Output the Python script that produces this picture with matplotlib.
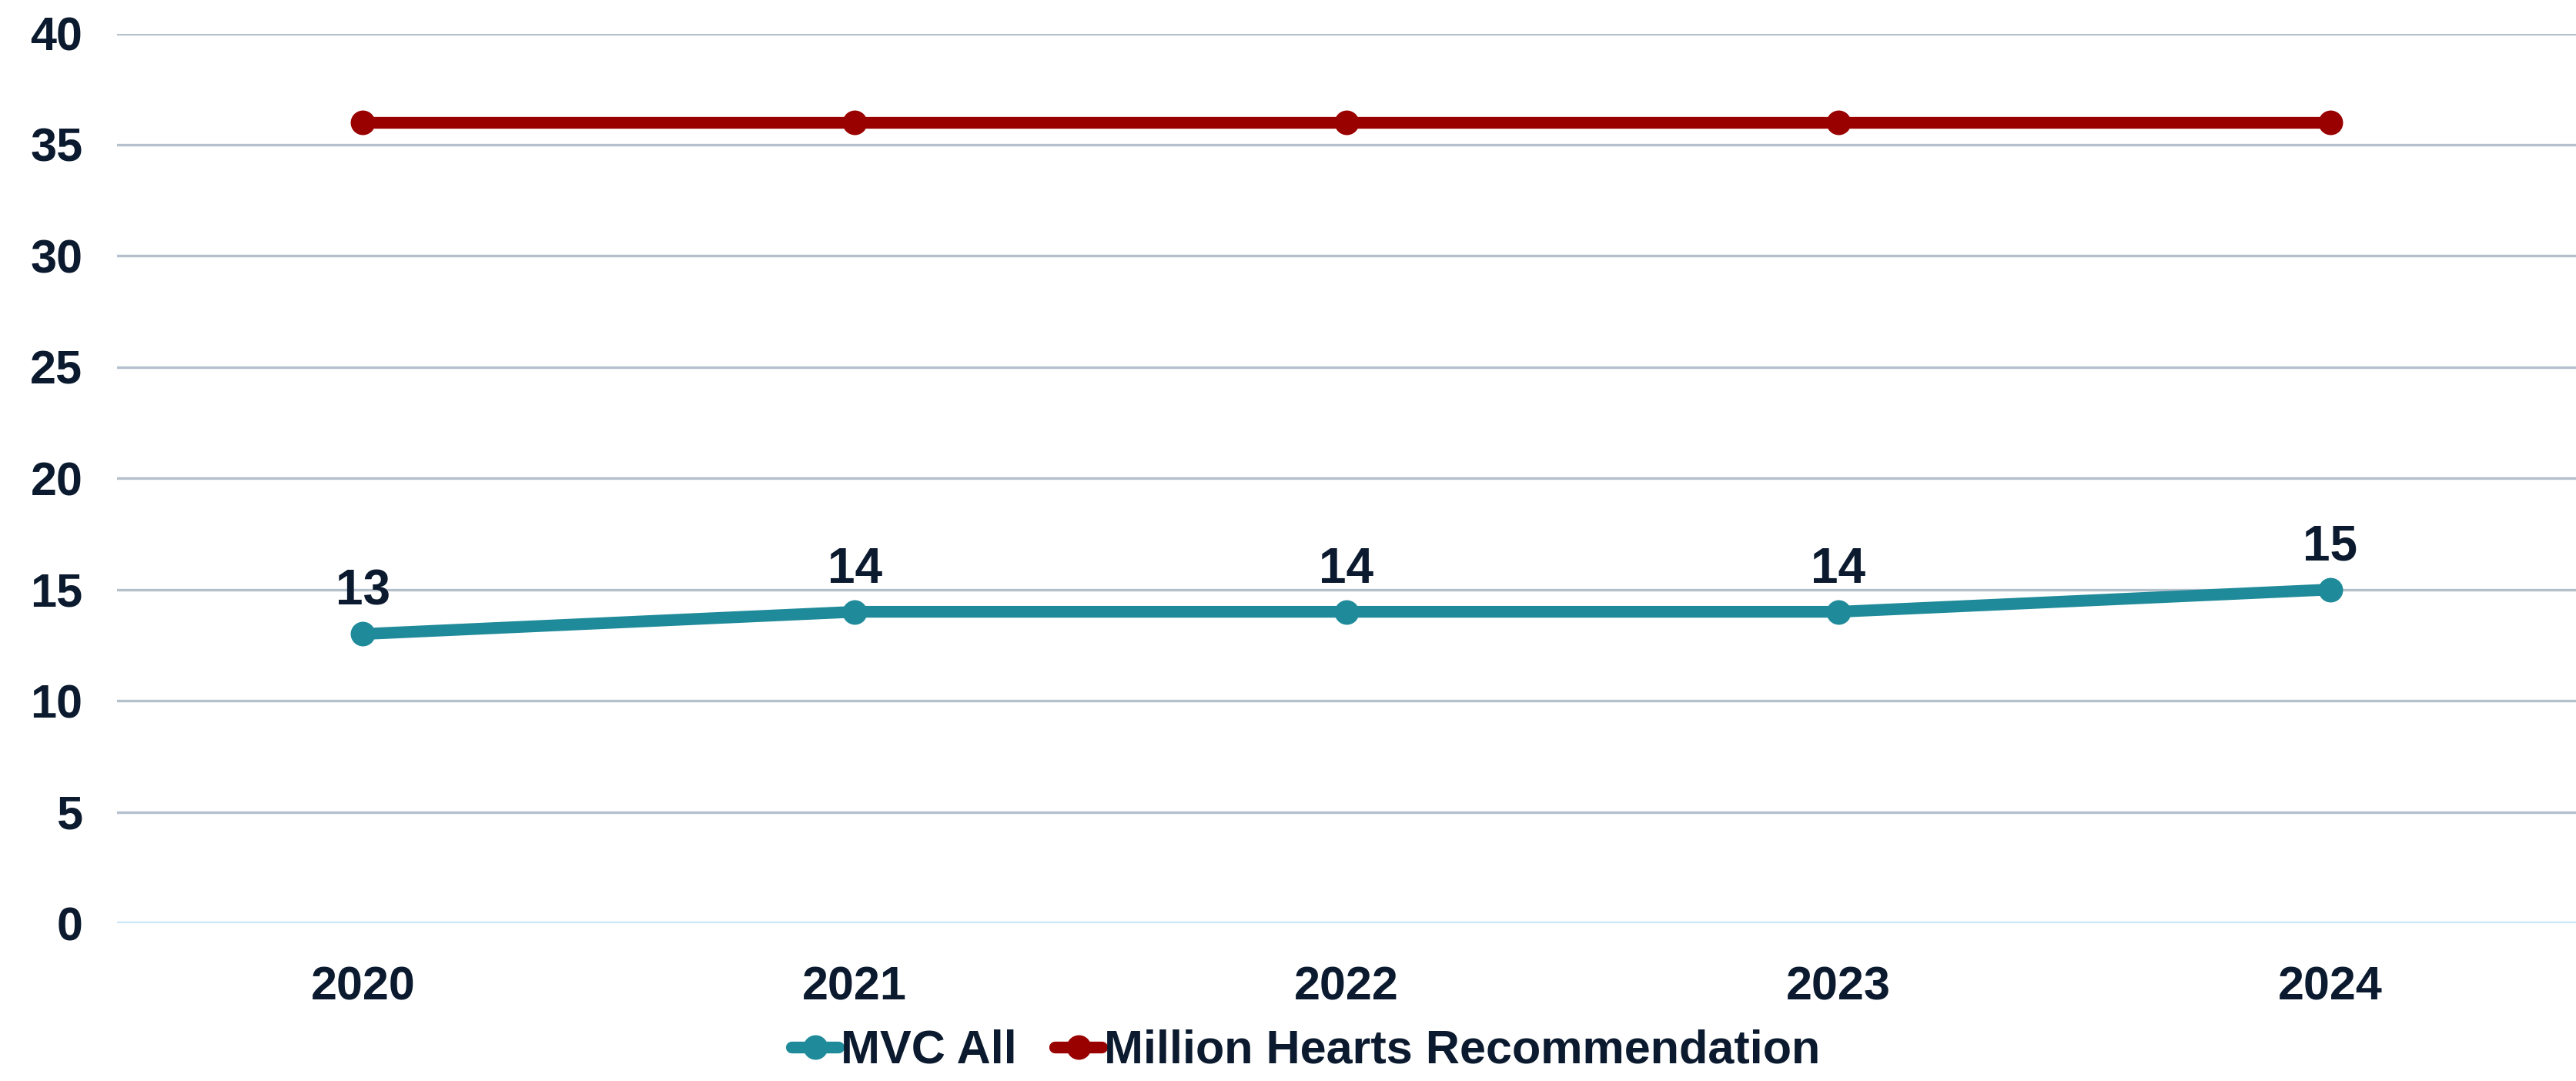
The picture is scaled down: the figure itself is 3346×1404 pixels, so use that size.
import matplotlib.pyplot as plt

# Data
years = ['2020', '2021', '2022', '2023', '2024']
mvc_all = [13, 14, 14, 14, 15]
million_hearts = [36, 36, 36, 36, 36]

text_col = '#0B1A2E'
plt.rcParams['font.family'] = ['Liberation Sans', 'DejaVu Sans']
plt.rcParams['font.weight'] = 'bold'

fig = plt.figure(figsize=(16.73, 7.02), dpi=200)
ax = fig.add_axes([0.0454, 0.146, 0.9546, 0.823])

x = range(len(years))
ax.plot(x, mvc_all, color='#1F8A99', lw=5.5, marker='o', ms=10.5,
        label='MVC All', solid_capstyle='round', zorder=3)
ax.plot(x, million_hearts, color='#990000', lw=5.5, marker='o', ms=10.5,
        label='Million Hearts Recommendation', solid_capstyle='round', zorder=3)

# data labels on MVC All only
for xi, v in zip(x, mvc_all):
    ax.annotate(str(v), (xi, v), xytext=(0, 9), textcoords='offset points',
                ha='center', va='bottom', fontsize=23, fontweight='bold',
                color=text_col)

ax.set_xlim(-0.5, 4.5)
ax.set_ylim(0, 40)
ax.set_yticks(range(0, 41, 5))
ax.set_xticks(list(x))
ax.set_xticklabels(years)

ax.grid(axis='y', color='#B4C0CC', lw=1.2)
ax.set_axisbelow(True)
for s in ax.spines.values():
    s.set_visible(False)
ax.axhline(0, color='#C8E4F8', lw=1.5, zorder=1)

ax.tick_params(axis='both', length=0, labelsize=22, labelcolor=text_col)
ax.tick_params(axis='y', pad=16)
ax.tick_params(axis='x', pad=20)
for lab in ax.get_xticklabels() + ax.get_yticklabels():
    lab.set_fontweight('bold')

leg = fig.legend(loc='lower center', bbox_to_anchor=(0.507, -0.032), ncol=2,
                 frameon=False, fontsize=22, handlelength=1.0,
                 handletextpad=0.05, columnspacing=0.8, labelcolor=text_col)
for t in leg.get_texts():
    t.set_fontweight('bold')

fig.savefig('out.png', dpi=200)
